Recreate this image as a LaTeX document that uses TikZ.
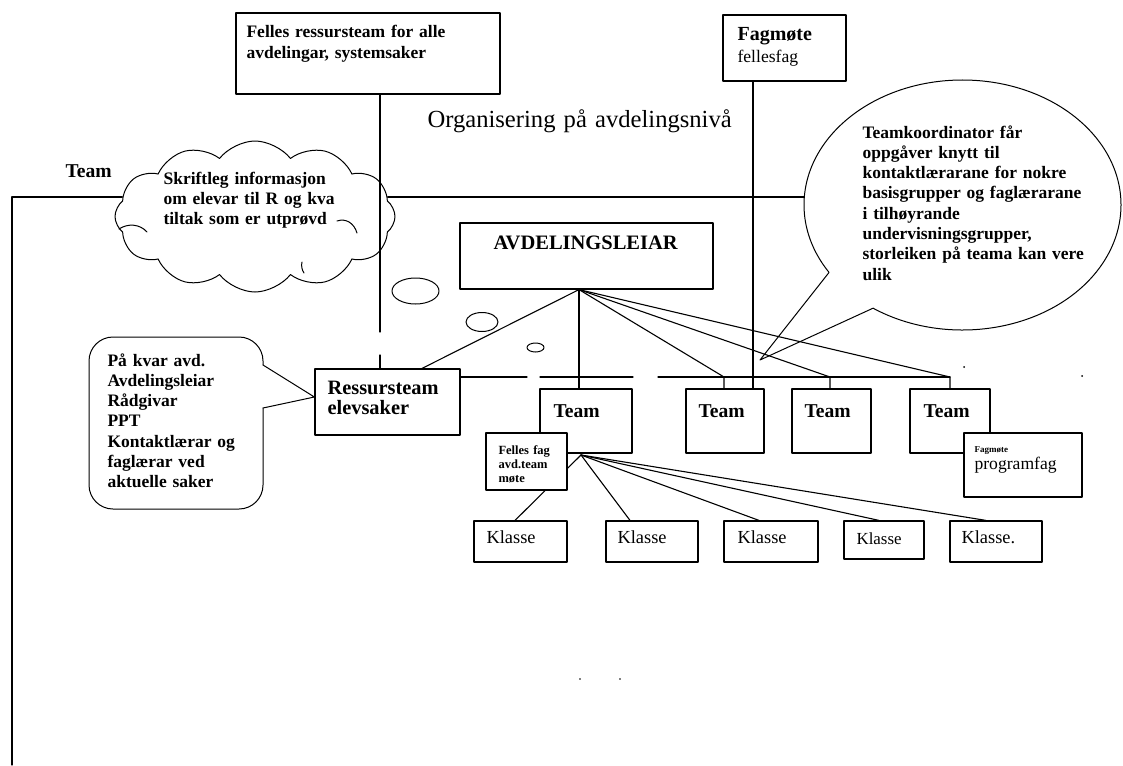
\documentclass[tikz,border=0pt]{standalone}
\usepackage{fontspec}
\setmainfont{Liberation Serif}
\usetikzlibrary{shapes.symbols,shapes.callouts,fit}
\begin{document}
\begin{tikzpicture}[x=1pt,y=-1pt,line width=1.1pt,line cap=round,line join=round,
  box/.style={draw,fill=white,inner sep=0pt,line width=1.2pt},
  tx/.style={anchor=base west,inner sep=0pt,align=left,text width=340pt},
  bfm/.style={font=\bfseries\fontsize{17.5}{20.3}\selectfont},
  teamf/.style={font=\bfseries\fontsize{19.6}{20}\selectfont},
  klf/.style={font=\fontsize{18.4}{20}\selectfont},
  dotf/.style={fill=black}]
\useasboundingbox (0,0) rectangle (1123,765);

% coordinates for connector ends
\coordinate (lc) at (12,197);
\coordinate (lb) at (12,765);
\coordinate (g1) at (380,332);
\coordinate (g2) at (380,355);
\coordinate (fx) at (753,0);
\coordinate (ax) at (579,0);
\coordinate (r1) at (422,0);
\coordinate (b2) at (724,377);
\coordinate (b3) at (830,377);
\coordinate (b4) at (950,377);
\coordinate (s1) at (527,377);
\coordinate (s2a) at (540,377);
\coordinate (s2b) at (633,377);
\coordinate (s3) at (658,377);
\coordinate (kj) at (581,455);
\coordinate (c1) at (515,0);
\coordinate (c2) at (630,0);
\coordinate (c3) at (759,0);
\coordinate (c4) at (879,0);
\coordinate (c5) at (986,0);

% top boxes
\node[box,fit={(236,13) (500,94)}] (fr) {};
\node[tx,bfm] (frt) at (246,38) {Felles ressursteam for alle\\avdelingar, systemsaker};
\node[box,fit={(723,15) (846,81)}] (fag) {};
\node[tx,font=\bfseries\fontsize{20}{21}\selectfont] (fagt) at (737,41) {Fagmøte};
\node[tx,font=\fontsize{17.6}{20}\selectfont] (fagt2) at (737,63) {fellesfag};

% title
\node[tx,font=\fontsize{24.6}{26}\selectfont] (title) at (427,128) {Organisering på avdelingsnivå};

% Team label
\node[tx,teamf] (teamlab) at (65,177) {Team};

% cloud
\node[draw,cloud,cloud puffs=12,cloud puff arc=105,cloud ignores aspect,
      minimum width=280pt,minimum height=151pt,inner sep=0pt,line width=1pt] (cl) at (255,216.5) {};
\draw[line width=1pt] (119,229) .. controls (128,223) and (140,224) .. (147,232);
\draw[line width=1pt] (337,221) .. controls (346,218) and (354,223) .. (357,233);
\draw[line width=1pt] (302,262) .. controls (301,266) and (302,270) .. (304,273);
\node[tx,bfm] (clt) at (163,184) {Skriftleg informasjon\\om elevar til R og kva\\tiltak som er utprøvd};

% ellipse callout
\node[draw,ellipse callout,minimum width=317pt,minimum height=250pt,inner sep=0pt,
      callout absolute pointer={(760,360)},callout pointer arc=23,line width=1pt] (ell) at (962.5,205) {};
\node[tx,bfm] (ellt) at (862,138) {Teamkoordinator får\\oppgåver knytt til\\kontaktlærarane for nokre\\basisgrupper og faglærarane\\i tilhøyrande\\undervisningsgrupper,\\storleiken på teama kan vere\\ulik};

% long lines
\draw (lb) -- (lc) -- (cl.172 |- lc);
\draw (cl.8 |- lc) -- (ell.177 |- lc);
\draw (fr.south -| g1) -- (g1);
\draw (fag.south -| fx) -- (fx |- 0,389);

% AVDELINGSLEIAR
\node[box,fit={(460,223) (713,289)}] (avd) {};
\node[tx,font=\bfseries\fontsize{20.5}{22}\selectfont] (avdt) at (493,249) {AVDELINGSLEIAR};
\coordinate (av) at (avd.south -| ax);

% thought bubbles
\draw[line width=1pt] (415.5,291) ellipse [x radius=23.5,y radius=13];
\draw[line width=1pt] (482,322) ellipse [x radius=16,y radius=9.5];
\draw[line width=1pt] (535.5,347.5) ellipse [x radius=8.5,y radius=4.5];

% Ressursteam
\node[box,fit={(315,369) (460,435)}] (res) {};
\node[tx,font=\bfseries\fontsize{20.4}{20}\selectfont] (rest) at (327,394) {Ressursteam\\elevsaker};
\draw (g2) -- (res.north -| g2);

% left callout
\draw[rounded corners=24,line width=1pt] (263,365) -- (263,337) -- (89,337) -- (89,509) -- (263,509) -- (263,408);
\draw[line width=1pt] (263,408) -- (res.west |- 0,397) -- (263,365);
\node[tx,bfm] (lct) at (107,366) {På kvar avd.\\Avdelingsleiar\\Rådgivar\\PPT\\Kontaktlærar og\\faglærar ved\\aktuelle saker};

% bus line
\draw (res.east |- s1) -- (s1);
\draw (s2a) -- (s2b);
\draw (s3) -- (b4);

% team boxes
\node[box,fit={(540,389) (632,453)}] (t1) {};
\node[box,fit={(686,389) (764,453)}] (t2) {};
\node[box,fit={(792,389) (871,453)}] (t3) {};
\node[box,fit={(910,389) (990,453)}] (t4) {};

% lines from AVDELINGSLEIAR
\draw (av) -- (res.north -| r1);
\draw (av) -- (t1.north -| av);
\draw (av) -- (b2) -- (t2.north -| b2);
\draw (av) -- (b3) -- (t3.north -| b3);
\draw (av) -- (b4) -- (t4.north -| b4);
\draw (fx |- 0,377) -- (t2.north -| fx);

\node[tx,teamf] (t1t) at (553,417) {Team};
\node[tx,teamf] (t2t) at (698,417) {Team};
\node[tx,teamf] (t3t) at (804,417) {Team};
\node[tx,teamf] (t4t) at (923,417) {Team};

% Klasse boxes
\node[box,fit={(474,521) (567,562)}] (k1) {};
\node[box,fit={(606,521) (698,562)}] (k2) {};
\node[box,fit={(724,521) (818,562)}] (k3) {};
\node[box,fit={(844,521) (924,559)}] (k4) {};
\node[box,fit={(950,521) (1042,562)}] (k5) {};
\draw (kj) -- (k1.north -| c1);
\draw (kj) -- (k2.north -| c2);
\draw (kj) -- (k3.north -| c3);
\draw (kj) -- (k4.north -| c4);
\draw (kj) -- (k5.north -| c5);
\node[tx,klf] (k1t) at (486,543) {Klasse};
\node[tx,klf] (k2t) at (617,543) {Klasse};
\node[tx,klf] (k3t) at (737,543) {Klasse};
\node[tx,font=\fontsize{16.9}{18}\selectfont] (k4t) at (856,544) {Klasse};
\node[tx,klf] (k5t) at (961,543) {Klasse.};

% Felles fag box
\node[box,fit={(486,433) (567,490)}] (ff) {};
\node[tx,font=\bfseries\fontsize{12.5}{14}\selectfont] (fft) at (498,454) {Felles fag\\avd.team\\møte};

% Fagmøte programfag box
\node[box,fit={(964,433) (1082,497)}] (pf) {};
\node[tx,font=\bfseries\fontsize{9}{10}\selectfont] (pft) at (974,452) {Fagmøte};
\node[tx,font=\fontsize{17.6}{20}\selectfont] (pft2) at (974,469) {programfag};

% specks
\fill[dotf] (964,367) circle [radius=1];
\fill[dotf] (1082,376) circle [radius=1];
\fill[dotf] (580,679) circle [radius=0.8];
\fill[dotf] (620,679) circle [radius=0.8];
\end{tikzpicture}
\end{document}
